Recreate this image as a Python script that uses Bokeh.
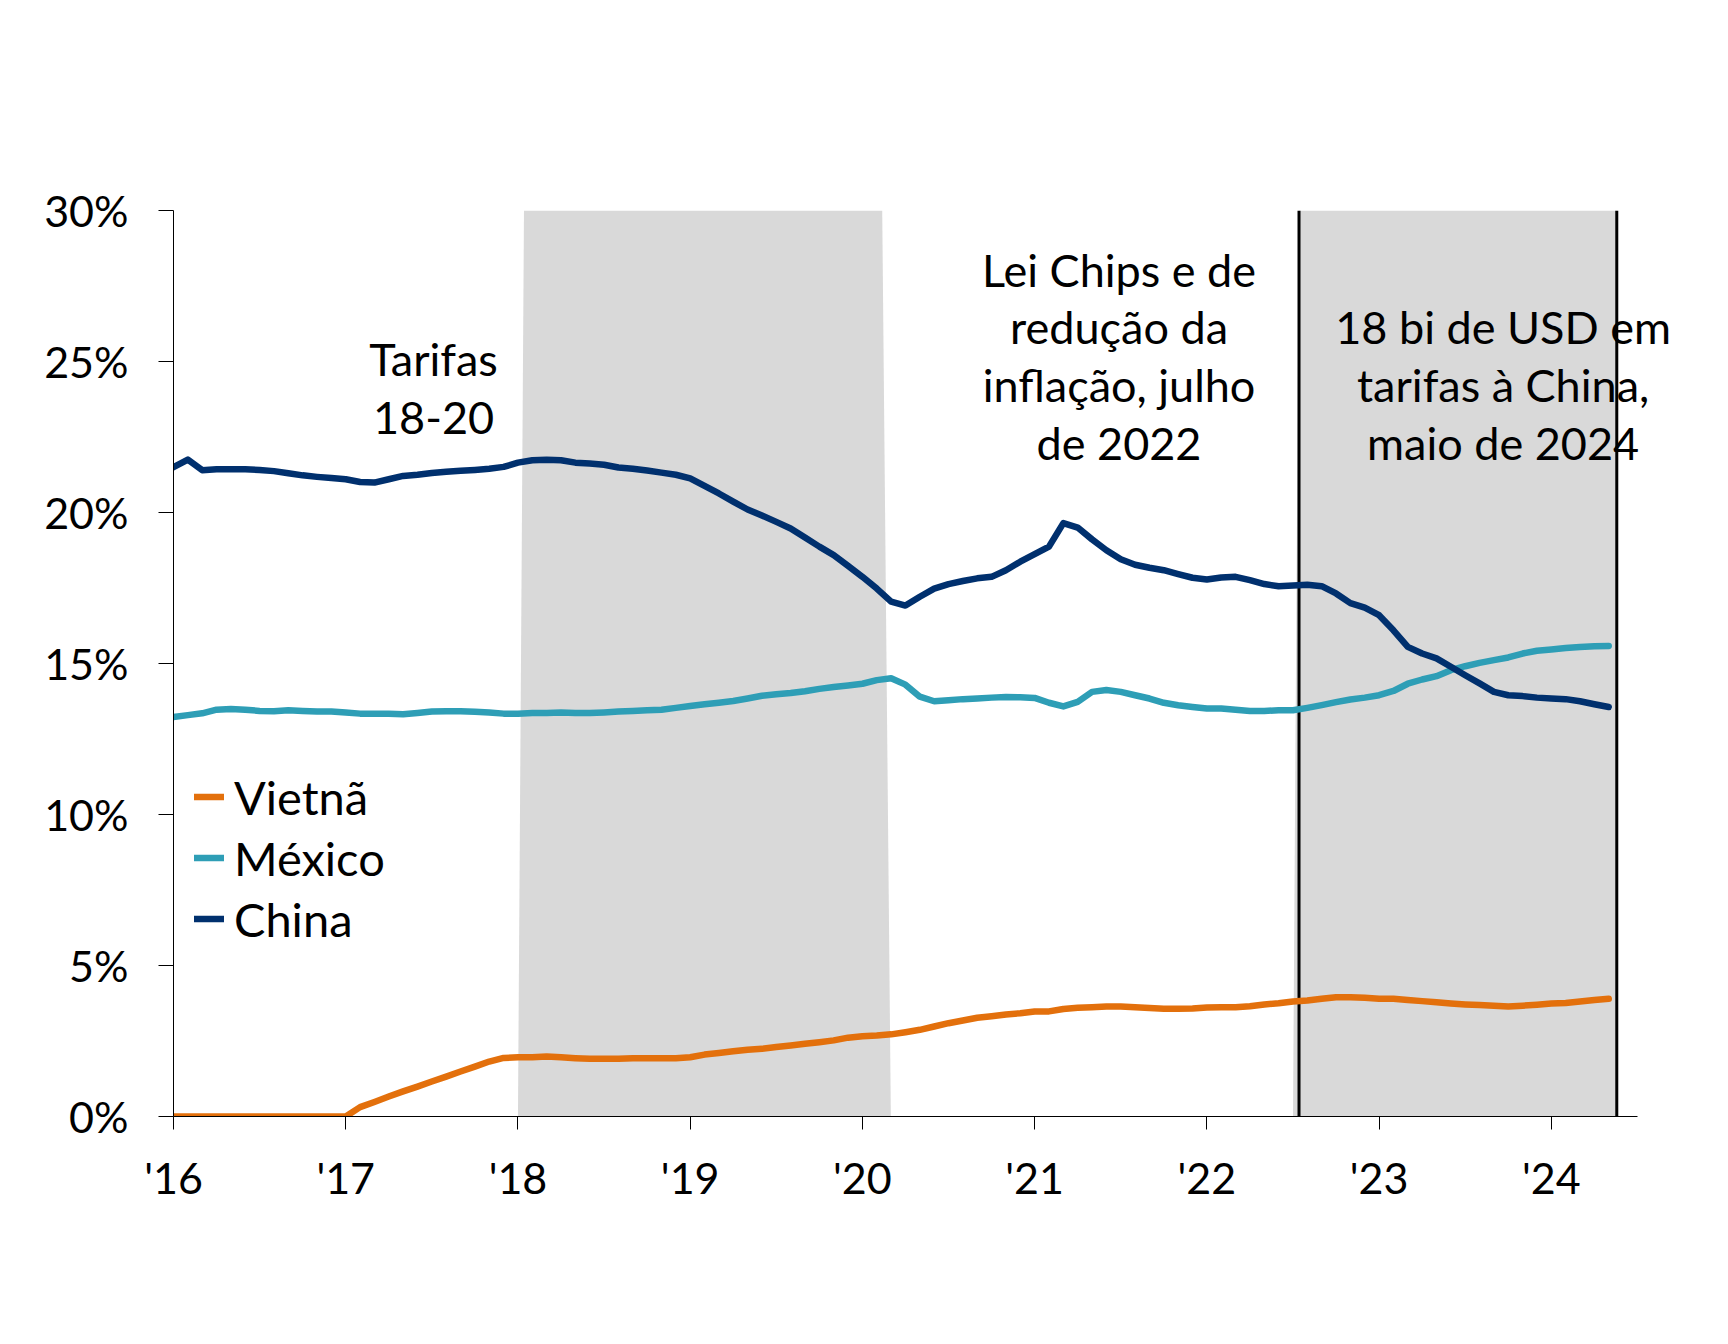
import pandas as pd
from bokeh.plotting import figure
from bokeh.models import Range1d, FixedTicker, Legend, LegendItem
from bokeh.embed import file_html
from bokeh.resources import INLINE
from bokeh.core.properties import value

# ---------------- data ----------------
months = pd.date_range("2016-01-01", "2024-05-01", freq="MS")

vietnam = [0, 0, 0, 0, 0, 0, 0, 0, 0, 0, 0, 0,
           0, 0.31, 0.48, 0.66, 0.83, 0.99, 1.16, 1.32, 1.49, 1.65, 1.82, 1.94,
           1.96, 1.96, 1.99, 1.96, 1.93, 1.91, 1.91, 1.91, 1.93, 1.93, 1.93, 1.93,
           1.96, 2.05, 2.10, 2.16, 2.21, 2.24, 2.30, 2.35, 2.41, 2.46, 2.52, 2.61,
           2.66, 2.68, 2.72, 2.79, 2.87, 2.98, 3.09, 3.18, 3.27, 3.32, 3.38, 3.42,
           3.48, 3.48, 3.56, 3.60, 3.62, 3.64, 3.64, 3.62, 3.59, 3.57, 3.57, 3.58,
           3.61, 3.62, 3.62, 3.65, 3.71, 3.75, 3.81, 3.84, 3.90, 3.95, 3.95, 3.93,
           3.90, 3.90, 3.86, 3.82, 3.78, 3.74, 3.71, 3.69, 3.67, 3.64, 3.67, 3.70,
           3.74, 3.76, 3.81, 3.86, 3.90]

mexico = [13.23, 13.29, 13.35, 13.47, 13.49, 13.47, 13.43, 13.42, 13.45, 13.43, 13.41, 13.41,
          13.38, 13.34, 13.34, 13.34, 13.32, 13.36, 13.41, 13.42, 13.42, 13.40, 13.38, 13.34,
          13.34, 13.36, 13.36, 13.38, 13.36, 13.36, 13.38, 13.41, 13.43, 13.45, 13.47, 13.53,
          13.59, 13.65, 13.70, 13.76, 13.84, 13.93, 13.98, 14.02, 14.08, 14.16, 14.22, 14.27,
          14.33, 14.45, 14.51, 14.30, 13.90, 13.75, 13.78, 13.82, 13.84, 13.87, 13.89, 13.88,
          13.86, 13.70, 13.58, 13.73, 14.06, 14.12, 14.06, 13.95, 13.84, 13.70, 13.62, 13.56,
          13.51, 13.51, 13.47, 13.43, 13.43, 13.45, 13.45, 13.53, 13.62, 13.72, 13.81, 13.87,
          13.95, 14.09, 14.33, 14.47, 14.58, 14.78, 14.91, 15.02, 15.11, 15.20, 15.33, 15.42,
          15.46, 15.51, 15.55, 15.57, 15.58]

china = [21.50, 21.75, 21.40, 21.43, 21.43, 21.43, 21.41, 21.37, 21.30, 21.23, 21.18, 21.14,
         21.10, 21.01, 20.99, 21.10, 21.21, 21.25, 21.31, 21.35, 21.38, 21.41, 21.45, 21.51,
         21.65, 21.73, 21.75, 21.73, 21.65, 21.62, 21.58, 21.49, 21.45, 21.39, 21.32, 21.25,
         21.13, 20.88, 20.63, 20.36, 20.10, 19.90, 19.69, 19.47, 19.17, 18.87, 18.59, 18.23,
         17.87, 17.48, 17.05, 16.92, 17.21, 17.48, 17.63, 17.73, 17.82, 17.87, 18.09, 18.37,
         18.62, 18.87, 19.65, 19.50, 19.11, 18.75, 18.45, 18.27, 18.17, 18.09, 17.96, 17.84,
         17.78, 17.85, 17.87, 17.76, 17.63, 17.56, 17.58, 17.61, 17.56, 17.32, 17.00, 16.85,
         16.60, 16.10, 15.55, 15.33, 15.17, 14.89, 14.61, 14.34, 14.06, 13.95, 13.92, 13.87,
         13.84, 13.82, 13.75, 13.65, 13.56]

series_names = ["Vietnã", "México", "China"]
series_colors = ["#E3700C", "#2E9EB6", "#00306E"]

year_ticks = [2016, 2017, 2018, 2019, 2020, 2021, 2022, 2023, 2024]
year_labels = ["'16", "'17", "'18", "'19", "'20", "'21", "'22", "'23", "'24"]
pct_ticks = [0, 5, 10, 15, 20, 25, 30]
pct_labels = ["0%", "5%", "10%", "15%", "20%", "25%", "30%"]

# shaded periods (decimal years)
tariff_period_x = [2018.0, 2018.035, 2020.115, 2020.165]
policy_period_x = [2022.50, 2022.535, 2024.38, 2024.38]
event_lines_x = [2022.535, 2024.38]

annotations = ["Tarifas\n18-20",
               "Lei Chips e de\nredução da\ninflação, julho\nde 2022",
               "18 bi de USD em\ntarifas à China,\nmaio de 2024"]
annotation_x = [2017.51, 2021.49, 2023.72]
annotation_y = [24.12, 25.17, 24.22]

x = [d.year + (d.month - 1) / 12 for d in months]

FONT = "Lato"

# ---------------- figure ----------------
# frame extends a little past the axis end so the right annotation is not clipped
p = figure(width=1712, height=1328,
           x_range=Range1d(2016, 2024.75), y_range=Range1d(0, 30),
           output_backend="svg", toolbar_location=None,
           min_border_left=173, min_border_right=32,
           min_border_top=210, min_border_bottom=212)
p.grid.visible = False
p.outline_line_color = None
p.background_fill_color = "white"
p.border_fill_color = "white"

# shading
p.patch(tariff_period_x, [0, 30, 30, 0], fill_color="#D9D9D9", line_color=None)
p.patch(policy_period_x, [0, 30, 30, 0], fill_color="#D9D9D9", line_color=None)

# annotations
p.text(x=annotation_x, y=annotation_y, text=annotations,
       text_align="center", text_baseline="middle",
       text_font=value(FONT), text_font_size="45px",
       text_line_height=1.07, text_color="black")

# event lines
p.segment(x0=event_lines_x, y0=[0, 0], x1=event_lines_x, y1=[30, 30],
          line_color="black", line_width=3)

# data lines
renderers = []
for name, col, vals in zip(series_names, series_colors, [vietnam, mexico, china]):
    r = p.line(x, vals, line_color=col, line_width=6.5,
               line_join="round", line_cap="round")
    renderers.append(r)

# axes
for ax in (p.xaxis[0], p.yaxis[0]):
    ax.axis_line_color = "black"
    ax.axis_line_width = 1
    ax.major_tick_line_color = "black"
    ax.major_tick_in = 0
    ax.minor_tick_line_color = None
    ax.major_label_text_font = FONT
    ax.major_label_text_font_size = "43px"
    ax.major_label_text_color = "black"

p.xaxis.bounds = (2016, 2024.5)
p.xaxis.ticker = FixedTicker(ticks=year_ticks)
p.xaxis.major_label_overrides = dict(zip(year_ticks, year_labels))
p.xaxis.major_tick_out = 13
p.xaxis.major_label_standoff = 22

p.yaxis.ticker = FixedTicker(ticks=pct_ticks)
p.yaxis.major_label_overrides = dict(zip(pct_ticks, pct_labels))
p.yaxis.major_tick_out = 15
p.yaxis.major_label_standoff = 30

# legend
legend = Legend(items=[LegendItem(label=n, renderers=[r]) for n, r in zip(series_names, renderers)],
                location=(21, 167), glyph_width=30, glyph_height=61, label_height=61,
                spacing=0, padding=0, margin=0, label_standoff=10,
                label_text_font=FONT, label_text_font_size="47px",
                label_text_color="black",
                border_line_color=None, background_fill_alpha=0)
p.add_layout(legend)

open("out.html", "w").write(file_html(p, INLINE))
